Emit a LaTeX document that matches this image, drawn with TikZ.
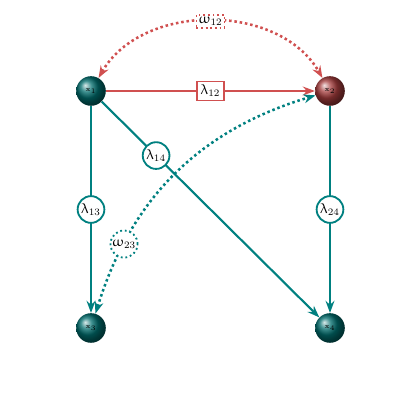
\documentclass[tikz,border=0pt]{standalone}
\usepackage{amsmath}
\usepackage{upgreek}
\usepackage{xcolor}
\usepackage{tikz}
\usetikzlibrary{shapes, arrows.meta, positioning, calc}

\definecolor{tealc}{RGB}{0,128,128}
\definecolor{redc}{RGB}{208,80,80}
\definecolor{redball}{RGB}{165,60,60}

\begin{document}
\begin{tikzpicture}[
    var/.style={circle, minimum size=0.74cm, inner sep=0pt, font=\tiny, text=black},
    tealvar/.style={var, ball color=tealc!85!black},
    redvar/.style={var, ball color=redball},
    lamlab/.style={circle, draw=tealc, line width=1.3pt, fill=white, inner sep=1pt, minimum size=0.66cm, text=black},
    lamred/.style={rectangle, draw=redc, line width=1.3pt, fill=white, inner sep=2.5pt, text=black},
    path/.style={line width=1.5pt, tealc, -{Stealth[length=3mm, width=2.2mm]}},
    corr/.style={line width=1.8pt, dotted, {Stealth[length=3mm, width=2.2mm]}-{Stealth[length=3mm, width=2.2mm]}}
  ]
  % Canvas
  \useasboundingbox (0,0) rectangle (10.5,10.5);

  % Variables
  \node[tealvar] (x1) at (2.275,8.225) {$\mathrm{x}_1$};
  \node[redvar]  (x2) at (8.25,8.225) {$\mathrm{x}_2$};
  \node[tealvar] (x3) at (2.275,2.3) {$\mathrm{x}_3$};
  \node[tealvar] (x4) at (8.25,2.3) {$\mathrm{x}_4$};

  % Directed paths
  \draw[path] (x1) -- (x3) node[lamlab, midway] {$\uplambda_{13}$};
  \draw[path] (x2) -- (x4) node[lamlab, midway] {$\uplambda_{24}$};
  \draw[path] (x1) -- (x4) node[lamlab, pos=0.25] {$\uplambda_{14}$};
  \draw[path, redc] (x1) -- (x2) node[lamred, midway] {$\uplambda_{12}$};

  % Correlated errors
  \draw[corr, redc] (x1) to[bend left=60]
    node[rectangle, draw=redc, dotted, line width=1.3pt, fill=white, inner sep=1.5pt, text=black] {$\upomega_{12}$} (x2);
  \draw[corr, tealc] (x3) to[bend left=28]
    node[circle, draw=tealc, dotted, line width=1.3pt, fill=white, inner sep=0.5pt, minimum size=0.64cm, text=black, pos=0.22] {$\upomega_{23}$} (x2);
\end{tikzpicture}
\end{document}
